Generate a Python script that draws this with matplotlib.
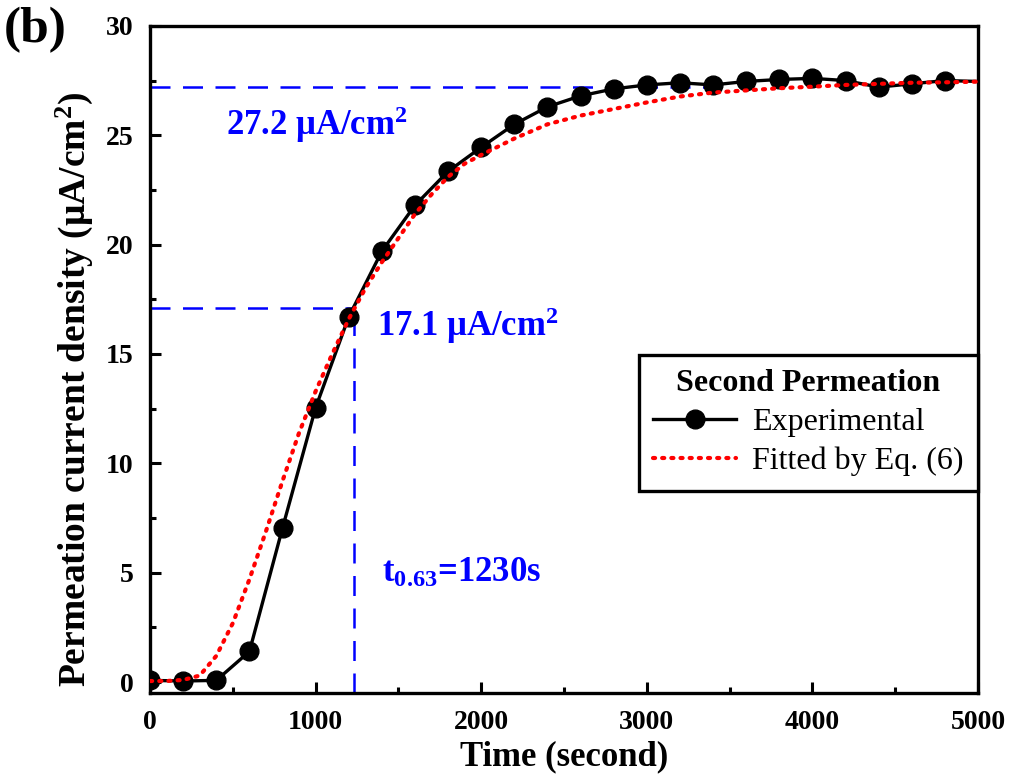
import numpy as np
import matplotlib
matplotlib.use("Agg")
import matplotlib.pyplot as plt

plt.rcParams['font.family'] = ['Liberation Serif', 'DejaVu Serif']
plt.rcParams['font.weight'] = 'bold'
plt.rcParams['mathtext.fontset'] = 'custom'
plt.rcParams['mathtext.rm'] = 'Liberation Serif:bold'
plt.rcParams['mathtext.it'] = 'Liberation Serif:bold'
plt.rcParams['mathtext.bf'] = 'Liberation Serif:bold'

# experimental points (every 200 s)
t_exp = [0, 200, 400, 600, 800, 1000, 1200, 1400, 1600, 1800, 2000, 2200, 2400,
         2600, 2800, 3000, 3200, 3400, 3600, 3800, 4000, 4200, 4400, 4600, 4800, 5000]
j_exp = [0.08, 0.05, 0.08, 1.4, 7.05, 12.55, 16.7, 19.7, 21.8, 23.35, 24.45, 25.5, 26.3,
         26.8, 27.12, 27.3, 27.4, 27.3, 27.46, 27.55, 27.6, 27.5, 27.2, 27.35, 27.5, 27.46]

# fitted curve
t_fit = [0, 100, 200, 300, 400, 500, 600, 700, 800, 900, 1000, 1100, 1200, 1300, 1400,
         1500, 1600, 1700, 1800, 1900, 2000, 2200, 2400, 2600, 2800, 3000, 3200, 3400,
         3600, 3800, 4000, 4200, 4400, 4600, 4800, 5000]
j_fit = [0.05, 0.05, 0.1, 0.3, 1.2, 2.7, 4.7, 6.9, 9.2, 11.4, 13.3, 15.0, 16.6, 18.0, 19.2,
         20.3, 21.4, 22.3, 23.1, 23.7, 24.1, 24.85, 25.5, 25.9, 26.2, 26.5, 26.77, 26.95,
         27.05, 27.15, 27.22, 27.3, 27.35, 27.4, 27.42, 27.45]

j_ss = 27.2
j_63 = 17.1
t_63 = 1230

fig = plt.figure(figsize=(10.14, 7.84), dpi=100)
ax = fig.add_axes([0.148, 0.116, 0.8165, 0.851])

dash = (0, (8, 5))
ax.plot([0, 3450], [j_ss, j_ss], color='blue', lw=1.8, linestyle=dash, zorder=1)
ax.plot([0, t_63], [j_63, j_63], color='blue', lw=1.8, linestyle=dash, zorder=1)
ax.plot([t_63, t_63], [-0.5, j_63], color='blue', lw=1.8, linestyle=dash, zorder=1)

ax.plot(t_exp, j_exp, color='black', lw=2.4, marker='o', markersize=13.5,
        markevery=list(range(len(t_exp) - 1)), label='Experimental', zorder=3)
ax.plot(t_fit, j_fit, color='red', lw=3.0, linestyle=(0, (0.5, 1.7)),
        dash_capstyle='round', label='Fitted by Eq. (6)', zorder=4)

ax.set_xlim(0, 5000)
ax.set_ylim(-0.5, 30)
ax.set_xticks([0, 1000, 2000, 3000, 4000, 5000])
ax.set_xticks([500, 1500, 2500, 3500, 4500], minor=True)
ax.set_yticks([0, 5, 10, 15, 20, 25, 30])
ax.set_yticks([2.5, 7.5, 12.5, 17.5, 22.5, 27.5], minor=True)
ax.tick_params(which='major', direction='in', length=8, width=2.2, labelsize=20, pad=12)
ax.tick_params(which='minor', direction='in', length=4.5, width=2.2)
for s in ax.spines.values():
    s.set_linewidth(2.4)

ax.set_xlabel('Time (second)', fontsize=25, fontweight='bold', labelpad=4)
ax.set_ylabel('Permeation current density (\u03bcA/cm$^2$)', fontsize=27, fontweight='bold')
ax.yaxis.set_label_coords(-0.066, 0.455)

ax.text(460, 25.5, '27.2 \u03bcA/cm$^2$', color='blue', fontsize=25, fontweight='bold', va='center')
ax.text(1371, 16.3, '17.1 \u03bcA/cm$^2$', color='blue', fontsize=25, fontweight='bold', va='center')
ax.text(1400, 4.95, 't$_{0.63}$=1230s', color='blue', fontsize=25, fontweight='bold', va='center')

fig.text(0.004, 0.962, '(b)', fontsize=37, fontweight='bold', va='center')

leg = ax.legend(loc='upper right', bbox_to_anchor=(1.0, 0.507), borderaxespad=0,
                title='Second Permeation', fontsize=23, frameon=True, fancybox=False,
                framealpha=1, edgecolor='black', handlelength=2.6, handletextpad=0.5,
                borderpad=0.45, labelspacing=0.3)
leg.get_frame().set_linewidth(2.4)
leg.get_title().set_fontweight('bold')
leg.get_title().set_fontsize(23)
for txt in leg.get_texts():
    txt.set_fontweight('normal')

plt.savefig('out.png', dpi=100)
